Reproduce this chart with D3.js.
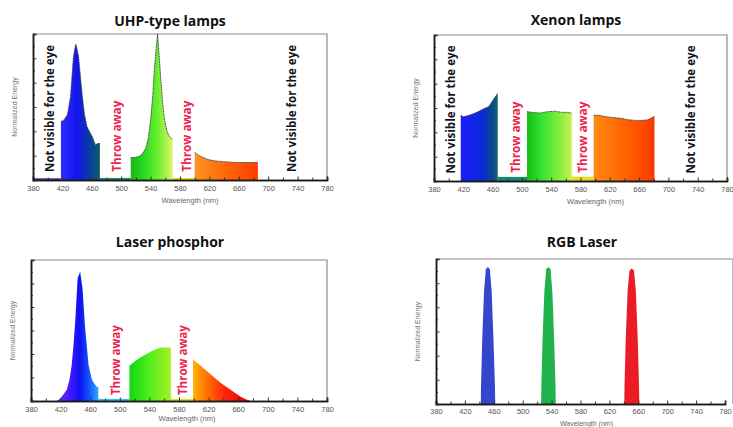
<!DOCTYPE html>
<html>
<head>
<meta charset="utf-8">
<script src="https://cdn.jsdelivr.net/npm/d3@7"></script>
<style>
  body { margin: 0; background: #fff; }
  svg { display: block; }
</style>
</head>
<body>
<script>
// wavelength axis
var nmLabels = [380, 420, 460, 500, 540, 580, 620, 660, 700, 740, 780];
var nmMinor = [400, 440, 480, 520, 560, 600, 640, 680, 720, 760];
var energyTicks = [0, 1/6, 2/6, 3/6, 4/6, 5/6, 1];
var energyMinor = [1/12, 3/12, 5/12, 7/12, 9/12, 11/12];

// UHP-type lamps  [wavelength nm, normalized energy]
var uhpBlue = [[418,0.40],[422,0.41],[427,0.45],[431,0.57],[435,0.845],[438,0.93],[439,0.92],[442,0.845],
  [446.7,0.595],[450,0.45],[453.5,0.365],[457,0.33],[460.4,0.30],[465,0.24],[468,0.25],[471,0.25]];
var uhpGreen = [[513,0.153],[520,0.155],[526,0.165],[530,0.19],[533.4,0.217],[537,0.29],[540,0.41],[543,0.58],
  [545,0.75],[547.5,0.9],[549.5,1.0],[551.5,0.86],[554,0.685],[556,0.55],[558.5,0.43],[562,0.34],[565,0.30],[568,0.285],[570,0.28]];
var uhpOrange = [[600,0.19],[605,0.17],[611,0.155],[618,0.14],[629,0.13],[640,0.125],[656,0.12],[670,0.12],[686,0.12]];
var uhpUv = [[380,0.012],[418,0.012]];
var uhpGap1 = [[471,0.014],[513,0.014]];
var uhpGap2 = [[570,0.014],[600,0.014]];

// Xenon lamps
var xenonBlue = [[416.5,0.45],[420,0.44],[428,0.45],[436,0.465],[442,0.48],[450,0.50],[455,0.51],[460,0.55],[464,0.58],[467,0.60]];
var xenonGreen = [[507,0.475],[515,0.47],[525,0.465],[535,0.475],[545,0.478],[555,0.47],[562,0.47],[568,0.465]];
var xenonOrange = [[598,0.45],[605,0.45],[615,0.44],[624,0.435],[635,0.43],[645,0.42],[655,0.415],[665,0.415],[672,0.42],[678,0.435],[681,0.445]];
var xenonGap1 = [[467,0.03],[507,0.03]];
var xenonGap2 = [[568,0.035],[598,0.035]];

// Laser phosphor
var phosBlue = [[414.8,0],[420,0.02],[428.4,0.08],[432,0.15],[435,0.255],[437.5,0.4],[439.7,0.56],[443,0.87],[446.4,0.917],
  [449.6,0.80],[453.2,0.515],[457.8,0.255],[462.3,0.15],[466,0.12],[469,0.10],[471,0.10]];
var phosGreen = [[513,0.25],[520,0.28],[528,0.31],[535,0.33],[541.4,0.35],[548,0.365],[555,0.38],[562,0.38],[569,0.38]];
var phosRed = [[599,0.295],[606,0.265],[613.7,0.23],[620,0.2],[627,0.17],[636,0.13],[645.3,0.095],[655,0.06],[663.4,0.03],[670,0.012],[677,0]];
var phosGap1 = [[471,0.015],[513,0.015]];
var phosGap2 = [[569,0.015],[599,0.015]];

// RGB laser
var laserBlue = [[442,0],[442.3,0.12],[444,0.45],[446.5,0.78],[449,0.93],[451.8,0.945],[454.5,0.93],[457,0.78],[459.5,0.45],[461.6,0.12],[462,0]];
var laserGreen = [[525.5,0],[525.8,0.12],[527.5,0.45],[530,0.78],[532.5,0.93],[535.5,0.945],[538.5,0.93],[541,0.78],[543.5,0.45],[545.4,0.12],[545.8,0]];
var laserRed = [[640.6,0],[640.9,0.12],[642.6,0.45],[645.2,0.78],[647.8,0.92],[651,0.935],[654,0.92],[656.6,0.78],[659.2,0.45],[661,0.12],[661.4,0]];

// colour ramps (style) [wavelength, colour]
var rampUhpBlue = [[418,"#2c2cff"],[440,"#1414ee"],[456,"#0b3aa6"],[471,"#0c5d66"]];
var rampUhpGreen = [[513,"#14b814"],[530,"#28d820"],[550,"#6cf030"],[570,"#e0f468"]];
var rampUhpOrange = [[600,"#ff9424"],[640,"#ff6a0a"],[686,"#ff3c00"]];
var rampXenonBlue = [[416,"#1e1eff"],[445,"#0a28d8"],[460,"#0b4890"],[467,"#0e6a6a"]];
var rampXenonGreen = [[507,"#16bc16"],[525,"#30e030"],[555,"#90f040"],[568,"#c8f050"]];
var rampXenonOrange = [[598,"#ff8a10"],[640,"#ff6400"],[681,"#ff3800"]];
var rampPhosBlue = [[414,"#8a20ff"],[430,"#4a1cff"],[446,"#1010f0"],[460,"#1060ff"],[471,"#30a8ff"]];
var rampPhosGreen = [[513,"#10d810"],[540,"#50ee20"],[569,"#a8f020"]];
var rampPhosRed = [[599,"#ffb400"],[615,"#ff7a00"],[640,"#ff2a10"],[677,"#e00000"]];

var W = 733, H = 427;
var svg = d3.select("body").append("svg").attr("width", W).attr("height", H);
var defs = svg.append("defs");
var gradId = 0;

function ramp(x, stops) {
  var id = "g" + (gradId++);
  var lo = stops[0][0], hi = stops[stops.length - 1][0];
  var g = defs.append("linearGradient").attr("id", id)
    .attr("gradientUnits", "userSpaceOnUse")
    .attr("x1", x(lo)).attr("x2", x(hi)).attr("y1", 0).attr("y2", 0);
  g.selectAll("stop").data(stops).enter().append("stop")
    .attr("offset", function(d) { return (d[0] - lo) / (hi - lo); })
    .attr("stop-color", function(d) { return d[1]; });
  return "url(#" + id + ")";
}

function panel(p) {
  var x = d3.scaleLinear().domain([380, 780]).range([p.left, p.right]);
  var y = d3.scaleLinear().domain([0, 1]).range([p.bottom, p.top]);
  var g = svg.append("g");

  // frame
  g.append("path")
    .attr("d", "M" + p.left + "," + p.top + "H" + (p.frameRight || p.right) + "V" + p.bottom)
    .attr("fill", "none").attr("stroke", "#8a8a8a").attr("stroke-width", 1.2);

  var area = d3.area().x(function(d) { return x(d[0]); }).y0(y(0)).y1(function(d) { return y(d[1]); });
  var line = d3.line().x(function(d) { return x(d[0]); }).y(function(d) { return y(d[1]); });

  p.series.forEach(function(s) {
    var fill = s.fill || ramp(x, s.ramp);
    g.append("path").datum(s.data).attr("d", area).attr("fill", fill);
    if (s.outline) {
      g.append("path").datum(s.data).attr("d", line)
        .attr("fill", "none").attr("stroke", "#3a3a3a").attr("stroke-width", 0.8)
        .attr("stroke-dasharray", "2,0.6");
    }
  });

  // annotations
  (p.notes || []).forEach(function(n) {
    var cx = x(n.at), cy = y(n.level);
    if (n.box) {
      g.append("rect").attr("x", x(n.box[0])).attr("width", x(n.box[1]) - x(n.box[0]))
        .attr("y", cy - n.len / 2 - 4).attr("height", n.len + 8).attr("fill", "#fff");
    }
    g.append("text")
      .attr("transform", "translate(" + cx + "," + cy + ") rotate(-90)")
      .attr("text-anchor", "middle").attr("dominant-baseline", "central")
      .attr("font-family", "'Open Sans', sans-serif").attr("font-weight", 700)
      .attr("font-size", n.size + "px")
      .attr("textLength", n.len).attr("lengthAdjust", "spacingAndGlyphs")
      .attr("fill", n.color)
      .text(n.text);
  });

  // axes
  var xMinor = g.append("g").attr("transform", "translate(0," + p.bottom + ")")
    .call(d3.axisBottom(x).tickValues(nmMinor).tickSize(-2.5).tickFormat(""));
  var xAxis = g.append("g").attr("transform", "translate(0," + p.bottom + ")")
    .call(d3.axisBottom(x).tickValues(nmLabels).tickSize(-3.5).tickPadding(p.tickPad || 6).tickFormat(d3.format("d")));
  var yMinor = g.append("g").attr("transform", "translate(" + p.left + ",0)")
    .call(d3.axisLeft(y).tickValues(energyMinor).tickSize(-2).tickFormat(""));
  var yAxis = g.append("g").attr("transform", "translate(" + p.left + ",0)")
    .call(d3.axisLeft(y).tickValues(energyTicks).tickSize(-3.5).tickFormat(""));
  [xMinor, xAxis, yMinor, yAxis].forEach(function(a) {
    a.selectAll(".domain").attr("stroke", "#1a1a1a").attr("stroke-width", 1.5);
    a.selectAll(".tick line").attr("stroke", "#333");
  });
  xAxis.selectAll("text").attr("fill", "#555").attr("font-size", "7.5px")
    .attr("font-family", "'Liberation Sans', Arial, sans-serif");

  // axis titles
  g.append("text").attr("x", (p.left + p.right) / 2 + p.xLabelShift).attr("y", p.bottom + p.xLabelGap)
    .attr("text-anchor", "middle").attr("fill", "#666").attr("font-size", p.xLabelSize || "7.5px")
    .attr("font-family", "'Liberation Sans', Arial, sans-serif").text("Wavelength (nm)");
  g.append("text")
    .attr("transform", "translate(" + (p.left - 16) + "," + ((p.top + p.bottom) / 2) + ") rotate(-90)")
    .attr("text-anchor", "middle").attr("fill", "#777").attr("font-size", "7px")
    .attr("font-family", "'Liberation Sans', Arial, sans-serif").text("Normalized Energy");

  // panel title
  svg.append("text").attr("x", p.titleX).attr("y", p.titleY)
    .attr("text-anchor", "middle").attr("fill", "#111")
    .attr("font-family", "'Open Sans', sans-serif").attr("font-weight", 700)
    .attr("font-size", "14px").text(p.title);
}

var eyeText = "Not visible for the eye", throwText = "Throw away";
var red = "#f0204a", ink = "#141420";

panel({
  title: "UHP-type lamps", titleX: 170, titleY: 26,
  left: 33, right: 327, top: 34, bottom: 180, xLabelShift: 10, xLabelGap: 23,
  series: [
    { data: uhpUv, fill: "#5a2aa0" },
    { data: uhpGap1, fill: "#1f8a6a" },
    { data: uhpGap2, fill: "#e0d828" },
    { data: uhpBlue, ramp: rampUhpBlue, outline: true },
    { data: uhpGreen, ramp: rampUhpGreen, outline: true },
    { data: uhpOrange, ramp: rampUhpOrange, outline: true }
  ],
  notes: [
    { text: eyeText, at: 403, level: 0.49, len: 127, size: 12.5, color: ink },
    { text: eyeText, at: 732, level: 0.49, len: 127, size: 12.5, color: ink },
    { text: throwText, at: 493.5, level: 0.30, len: 71, size: 12, color: red },
    { text: throwText, at: 589.5, level: 0.30, len: 71, size: 12, color: red }
  ]
});

panel({
  title: "Xenon lamps", titleX: 576, titleY: 25,
  left: 434, right: 727, top: 35, bottom: 181, xLabelShift: 15, xLabelGap: 23,
  series: [
    { data: xenonGap1, fill: "#138a6e" },
    { data: xenonGap2, fill: "#e8dc20" },
    { data: xenonBlue, ramp: rampXenonBlue, outline: true },
    { data: xenonGreen, ramp: rampXenonGreen, outline: true },
    { data: xenonOrange, ramp: rampXenonOrange, outline: true }
  ],
  notes: [
    { text: eyeText, at: 402, level: 0.49, len: 128, size: 12.5, color: ink },
    { text: eyeText, at: 729.5, level: 0.49, len: 128, size: 12.5, color: ink },
    { text: throwText, at: 490.6, level: 0.30, len: 71, size: 12, color: red, box: [468, 506] },
    { text: throwText, at: 583.4, level: 0.30, len: 71, size: 12, color: red, box: [569, 597] }
  ]
});

panel({
  title: "Laser phosphor", titleX: 170, titleY: 247,
  left: 31, right: 327, top: 260, bottom: 401, xLabelShift: 8, xLabelGap: 20,
  series: [
    { data: phosGap1, fill: "#30c8f0" },
    { data: phosGap2, fill: "#e8e020" },
    { data: phosBlue, ramp: rampPhosBlue },
    { data: phosGreen, ramp: rampPhosGreen },
    { data: phosRed, ramp: rampPhosRed }
  ],
  notes: [
    { text: throwText, at: 494, level: 0.29, len: 70, size: 12, color: red },
    { text: throwText, at: 584.7, level: 0.29, len: 70, size: 12, color: red }
  ]
});

panel({
  title: "RGB Laser", titleX: 582, titleY: 247,
  left: 436, right: 725, frameRight: 733, top: 259, bottom: 404, xLabelShift: 6,
  xLabelGap: 21.5, xLabelSize: "7px", tickPad: 4.5,
  series: [
    { data: laserBlue, fill: "#3346cc" },
    { data: laserGreen, fill: "#22b24c" },
    { data: laserRed, fill: "#ec1c26" }
  ]
});
</script>
</body>
</html>
